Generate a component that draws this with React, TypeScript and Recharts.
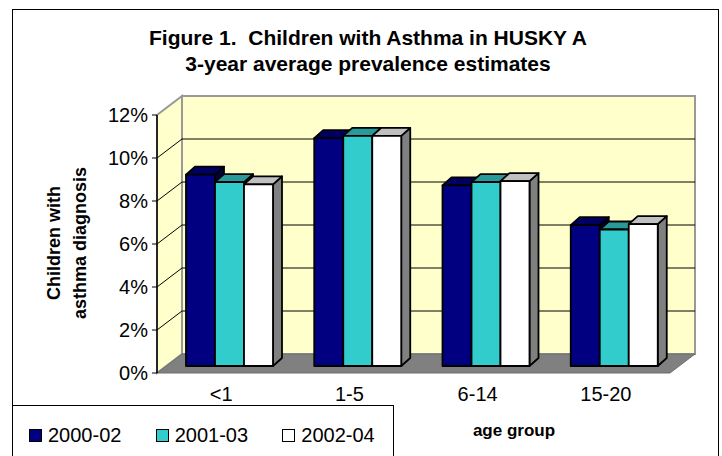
import React from 'react'
import {
  Bar,
  BarChart,
  Legend,
  ReferenceArea,
  ReferenceLine,
  XAxis,
  YAxis,
} from 'recharts'

// data
const ageGroups = ['<1', '1-5', '6-14', '15-20']
const prev2000 = [8.9, 10.6, 8.4, 6.55]
const prev2001 = [8.55, 10.7, 8.55, 6.35]
const prev2002 = [8.45, 10.7, 8.6, 6.6]
const yTicks = [0, 2, 4, 6, 8, 10, 12]
const boundTicks = [0, 1, 2, 3, 4]

const series = [
  { key: 'p2000', name: '2000-02', front: '#000080', top: '#000060', side: '#000040' },
  { key: 'p2001', name: '2001-03', front: '#33CCCC', top: '#2A9999', side: '#1F7F7F' },
  { key: 'p2002', name: '2002-04', front: '#FFFFFF', top: '#C0C0C0', side: '#808080' },
]

const data = ageGroups.map((group, i) => ({
  group,
  p2000: prev2000[i],
  p2001: prev2001[i],
  p2002: prev2002[i],
}))

const FONT = '"Liberation Sans", Arial, sans-serif'
// 3d offsets
const WALL_DX = 25
const WALL_DY = 19
const BAR_SHIFT_X = 9
const BAR_SHIFT_Y = 7
const BAR_DX = 9
const BAR_DY = 8

const Walls = (props: any) => {
  const { x, y, width, height } = props
  const bx = x + WALL_DX
  const by = y - WALL_DY
  const bottom = y + height
  return (
    <g>
      <polygon
        points={`${x},${bottom} ${x},${y} ${bx},${by} ${bx},${by + height}`}
        fill="#FFFFCC"
        stroke="#999999"
        strokeWidth={2}
      />
      <rect x={bx} y={by} width={width} height={height} fill="#FFFFCC" stroke="#999999" strokeWidth={2} />
      <polygon
        points={`${x},${bottom} ${x + width},${bottom} ${bx + width},${by + height} ${bx},${by + height}`}
        fill="#808080"
        stroke="#6f6f6f"
        strokeWidth={1}
      />
    </g>
  )
}

const GridLine = (props: any) => {
  const { x1, y1, x2, y2 } = props
  return (
    <g>
      <line x1={x1} y1={y1} x2={x1 + WALL_DX} y2={y1 - WALL_DY} stroke="#000" strokeWidth={1} />
      <line x1={x1 + WALL_DX} y1={y1 - WALL_DY} x2={x2 + WALL_DX} y2={y2 - WALL_DY} stroke="#000" strokeWidth={1} />
    </g>
  )
}

const makeBar = (s: (typeof series)[number]) => (props: any) => {
  const { x, y, width, height } = props
  const fx = x + BAR_SHIFT_X
  const fy = y - BAR_SHIFT_Y
  const r = fx + width
  return (
    <g stroke="#000" strokeWidth={1.8} strokeLinejoin="round">
      <polygon
        points={`${r},${fy} ${r + BAR_DX},${fy - BAR_DY} ${r + BAR_DX},${fy + height - BAR_DY} ${r},${fy + height}`}
        fill={s.side}
      />
      <polygon
        points={`${fx},${fy} ${r},${fy} ${r + BAR_DX},${fy - BAR_DY} ${fx + BAR_DX},${fy - BAR_DY}`}
        fill={s.top}
      />
      <rect x={fx} y={fy} width={width} height={height} fill={s.front} />
    </g>
  )
}

const renderLegend = (props: any) => {
  const { payload } = props
  return (
    <div style={{ display: 'flex', alignItems: 'center', height: '100%', fontFamily: FONT, fontSize: 20 }}>
      {(payload || []).map((entry: any) => (
        <div key={entry.value} style={{ width: 127, display: 'flex', alignItems: 'center', paddingLeft: 16 }}>
          <span
            style={{
              display: 'inline-block',
              width: 13,
              height: 13,
              boxSizing: 'border-box',
              border: '1.5px solid #000',
              background: entry.color,
              marginRight: 6,
            }}
          />
          <span>{entry.value}</span>
        </div>
      ))}
    </div>
  )
}

export default function App() {
  return (
    <div style={{ position: 'absolute', left: 0, top: 0, width: 722, height: 456, overflow: 'hidden', background: '#fff' }}>
      <div
        style={{
          position: 'absolute',
          left: 12,
          top: 9,
          width: 707,
          height: 470,
          border: '1.5px solid #000',
          boxSizing: 'border-box',
        }}
      />
      <div
        style={{
          position: 'absolute',
          left: 118,
          top: 25,
          width: 500,
          textAlign: 'center',
          fontFamily: FONT,
          fontWeight: 'bold',
          fontSize: 21,
          lineHeight: '26px',
          color: '#000',
        }}
      >
        <div>Figure 1.&nbsp; Children with Asthma in HUSKY A</div>
        <div>3-year average prevalence estimates</div>
      </div>
      <div
        style={{
          position: 'absolute',
          left: 67,
          top: 243,
          transform: 'translate(-50%, -50%) rotate(-90deg)',
          whiteSpace: 'nowrap',
          textAlign: 'center',
          fontFamily: FONT,
          fontWeight: 'bold',
          fontSize: 18,
          lineHeight: '26px',
        }}
      >
        <div>Children with</div>
        <div>asthma diagnosis</div>
      </div>
      <div
        style={{
          position: 'absolute',
          left: 514,
          top: 431,
          transform: 'translate(-50%, -50%)',
          whiteSpace: 'nowrap',
          fontFamily: FONT,
          fontWeight: 'bold',
          fontSize: 17,
        }}
      >
        age group
      </div>
      <BarChart
        width={722}
        height={456}
        data={data}
        margin={{ top: 115, right: 52, bottom: 43, left: 0 }}
        barCategoryGap={20}
        barGap={0}
        style={{ position: 'absolute', left: 0, top: 0 }}
      >
        <XAxis
          xAxisId="bounds"
          type="number"
          domain={[0, 4]}
          ticks={boundTicks}
          interval={0}
          height={0}
          tick={false}
          axisLine={{ stroke: '#000', strokeWidth: 2 }}
          tickLine={{ stroke: '#000', strokeWidth: 1 }}
          tickSize={5}
        />
        <XAxis
          xAxisId="cat"
          dataKey="group"
          height={40}
          interval={0}
          axisLine={false}
          tickLine={false}
          tickSize={5}
          tickMargin={9}
          tick={{ fill: '#000', fontSize: 20, fontFamily: FONT }}
        />
        <YAxis
          domain={[0, 12]}
          ticks={yTicks}
          interval={0}
          width={157}
          axisLine={{ stroke: '#000', strokeWidth: 1.5 }}
          tickLine={{ stroke: '#000', strokeWidth: 1 }}
          tickSize={5}
          tickMargin={4}
          tick={{ fill: '#000', fontSize: 20, fontFamily: FONT }}
          tickFormatter={(v) => `${v}%`}
        />
        <ReferenceArea
          xAxisId="cat"
          y1={0}
          y2={12}
          ifOverflow="visible"
          shape={Walls}
          zIndex={-90}
        />
        {yTicks
          .filter((t) => t > 0 && t < 12)
          .map((t) => (
            <ReferenceLine key={t} xAxisId="cat" y={t} ifOverflow="visible" shape={GridLine} zIndex={-80} />
          ))}
        {series.map((s) => (
          <Bar
            key={s.key}
            xAxisId="cat"
            dataKey={s.key}
            name={s.name}
            fill={s.front}
            shape={makeBar(s)}
            isAnimationActive={false}
          />
        ))}
        <Legend
          layout="horizontal"
          verticalAlign="middle"
          align="center"
          content={renderLegend}
          wrapperStyle={{
            left: 12,
            top: 405,
            width: 382,
            height: 60,
            border: '1.5px solid #000',
            boxSizing: 'border-box',
            background: '#fff',
          }}
        />
      </BarChart>
    </div>
  )
}
